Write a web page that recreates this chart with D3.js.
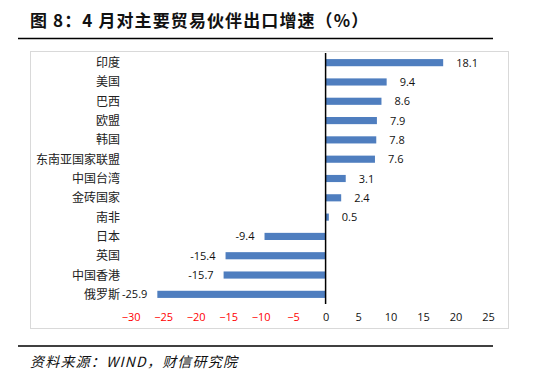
<!DOCTYPE html>
<html><head><meta charset="utf-8">
<script src="https://cdn.jsdelivr.net/npm/d3@7"></script>
<style>body{margin:0;background:#fff}</style>
</head><body>
<svg id="c" width="550" height="380"></svg>
<script>
const categories = ["印度","美国","巴西","欧盟","韩国","东南亚国家联盟","中国台湾","金砖国家","南非","日本","英国","中国香港","俄罗斯"];
const values = [18.1,9.4,8.6,7.9,7.8,7.6,3.1,2.4,0.5,-9.4,-15.4,-15.7,-25.9];
const ticks = [-30,-25,-20,-15,-10,-5,0,5,10,15,20,25];

const svg = d3.select("#c");
const cjk = "'Noto Sans CJK SC', sans-serif";
const num = "'Open Sans', 'Liberation Sans', sans-serif";

// title
svg.append("text").attr("x",30).attr("y",27)
  .attr("font-family",cjk).attr("font-weight","bold").attr("font-size",17).attr("letter-spacing",1.1).attr("fill","#111")
  .text("图 8：4 月对主要贸易伙伴出口增速（%）");
svg.append("line").attr("x1",18).attr("x2",493).attr("y1",38.5).attr("y2",38.5)
  .attr("stroke","#000").attr("stroke-width",1.5);

// chart frame
svg.append("rect").attr("x",30.5).attr("y",51.5).attr("width",478).attr("height",277)
  .attr("fill","none").attr("stroke","#d9d9d9");

const x = d3.scaleLinear().domain([-30,25]).range([130.7,488]);
const y = d3.scaleBand().domain(categories).range([53,304]).paddingInner(0.63).paddingOuter(0.315);

const g = svg.append("g");
g.selectAll("rect.bar").data(values).join("rect").attr("class","bar")
  .attr("x",(d)=>x(Math.min(0,d))).attr("width",d=>Math.abs(x(d)-x(0)))
  .attr("y",(d,i)=>y(categories[i])).attr("height",y.bandwidth())
  .attr("fill","#4f7ebf");

// zero axis
svg.append("line").attr("x1",x(0)).attr("x2",x(0)).attr("y1",53).attr("y2",304)
  .attr("stroke","#000").attr("stroke-width",1.5);

// value labels
g.selectAll("text.val").data(values).join("text").attr("class","val")
  .attr("x",d=> d>=0 ? x(d)+13 : x(d)-10)
  .attr("y",(d,i)=>y(categories[i])+y.bandwidth()/2+4)
  .attr("text-anchor",d=>d>=0?"start":"end")
  .attr("font-family",num).attr("font-size",11).attr("fill","#111")
  .text(d=>d.toFixed(1));

// category labels
g.selectAll("text.cat").data(categories).join("text").attr("class","cat")
  .attr("x",120).attr("y",d=>y(d)+y.bandwidth()/2+4.5)
  .attr("text-anchor","end").attr("font-family",cjk).attr("font-size",12).attr("fill","#222")
  .text(d=>d);

// x axis tick labels
const ax = svg.append("g").attr("transform","translate(0,313)")
  .call(d3.axisBottom(x).tickValues(ticks).tickSize(0).tickPadding(0).tickFormat(d3.format("d")));
ax.select(".domain").remove();
ax.selectAll("text").attr("font-family",num).attr("font-size",11)
  .attr("fill",d=>d<0?"#ff0000":"#111");

// footer
svg.append("line").attr("x1",18).attr("x2",493).attr("y1",346).attr("y2",346)
  .attr("stroke","#000").attr("stroke-width",1.5);
svg.append("text").attr("x",30).attr("y",367)
  .attr("font-family",cjk).attr("font-style","italic").attr("font-size",14).attr("letter-spacing",1.2).attr("fill","#111")
  .text("资料来源：WIND，财信研究院");
</script>
</body></html>
